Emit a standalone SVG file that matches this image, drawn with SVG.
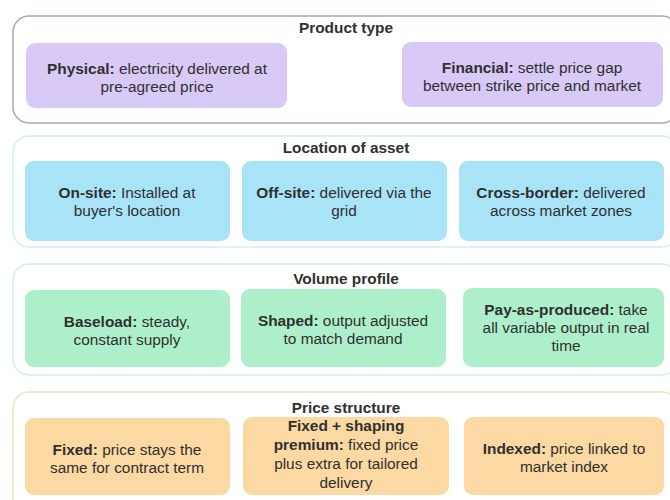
<svg xmlns="http://www.w3.org/2000/svg" width="670" height="500" viewBox="0 0 670 500">
  <style>
    text { font-family: "Liberation Sans", Arial, sans-serif; font-size: 15.4px; fill: #303030; text-anchor: middle; }
    .title { font-weight: bold; }
    .b { font-weight: bold; }
    .frame { fill: #ffffff; stroke-width: 1.5; }
    .f1 { stroke: #b7a0bb; }
    .f2 { stroke: #d3edf3; }
    .f3 { stroke: #d3f0df; }
    .f4 { stroke: #f9dfc1; }
    .purple { fill: #d8c9f6; }
    .blue { fill: #a9e3f8; }
    .green { fill: #aeefcb; }
    .orange { fill: #fcd9a3; }
  </style>
  <rect width="670" height="500" fill="#ffffff"/>

  <!-- Product type -->
  <g id="product-type">
    <rect class="frame f1" x="13" y="16" width="665" height="107" rx="16"/>
    <text class="title" x="346" y="33">Product type</text>
  </g>
  <g id="physical">
    <rect class="purple" x="26" y="43" width="261" height="65" rx="9"/>
    <text x="157" y="74"><tspan class="b">Physical:</tspan> electricity delivered at</text>
    <text x="157" y="92">pre-agreed price</text>
  </g>
  <g id="financial">
    <rect class="purple" x="402" y="42" width="261" height="65" rx="9"/>
    <text x="532" y="73"><tspan class="b">Financial:</tspan> settle price gap</text>
    <text x="532" y="91">between strike price and market</text>
  </g>

  <!-- Location of asset -->
  <g id="location-of-asset">
    <rect class="frame f2" x="13" y="136" width="665" height="111" rx="16"/>
    <text class="title" x="346" y="153">Location of asset</text>
  </g>
  <g id="on-site">
    <rect class="blue" x="25" y="161" width="205" height="80" rx="9"/>
    <text x="127" y="198"><tspan class="b">On-site:</tspan> Installed at</text>
    <text x="127" y="216">buyer's location</text>
  </g>
  <g id="off-site">
    <rect class="blue" x="242" y="161" width="205" height="80" rx="9"/>
    <text x="344" y="198"><tspan class="b">Off-site:</tspan> delivered via the</text>
    <text x="344" y="216">grid</text>
  </g>
  <g id="cross-border">
    <rect class="blue" x="459" y="161" width="205" height="80" rx="9"/>
    <text x="561" y="198"><tspan class="b">Cross-border:</tspan> delivered</text>
    <text x="561" y="216">across market zones</text>
  </g>

  <!-- Volume profile -->
  <g id="volume-profile">
    <rect class="frame f3" x="13" y="264" width="665" height="111" rx="16"/>
    <text class="title" x="346" y="284">Volume profile</text>
  </g>
  <g id="baseload">
    <rect class="green" x="25" y="290" width="205" height="77" rx="9"/>
    <text x="127" y="327"><tspan class="b">Baseload:</tspan> steady,</text>
    <text x="127" y="345">constant supply</text>
  </g>
  <g id="shaped">
    <rect class="green" x="241" y="289" width="205" height="78" rx="9"/>
    <text x="343" y="326"><tspan class="b">Shaped:</tspan> output adjusted</text>
    <text x="343" y="344">to match demand</text>
  </g>
  <g id="pay-as-produced">
    <rect class="green" x="463" y="288" width="201" height="79" rx="9"/>
    <text x="566" y="315"><tspan class="b">Pay-as-produced:</tspan> take</text>
    <text x="566" y="333">all variable output in real</text>
    <text x="566" y="351">time</text>
  </g>

  <!-- Price structure -->
  <g id="price-structure">
    <rect class="frame f4" x="13" y="392" width="665" height="130" rx="16"/>
    <text class="title" x="346" y="413">Price structure</text>
  </g>
  <g id="fixed">
    <rect class="orange" x="25" y="418" width="205" height="77" rx="9"/>
    <text x="127" y="455"><tspan class="b">Fixed:</tspan> price stays the</text>
    <text x="127" y="473">same for contract term</text>
  </g>
  <g id="fixed-shaping">
    <rect class="orange" x="243" y="417" width="206" height="78" rx="9"/>
    <text class="b" x="346" y="431">Fixed + shaping</text>
    <text x="346" y="450"><tspan class="b">premium:</tspan> fixed price</text>
    <text x="346" y="469">plus extra for tailored</text>
    <text x="346" y="488">delivery</text>
  </g>
  <g id="indexed">
    <rect class="orange" x="464" y="417" width="200" height="78" rx="9"/>
    <text x="564" y="454"><tspan class="b">Indexed:</tspan> price linked to</text>
    <text x="564" y="472">market index</text>
  </g>

  <!-- no connectors in this layout -->
  <g id="connectors"/>
</svg>
